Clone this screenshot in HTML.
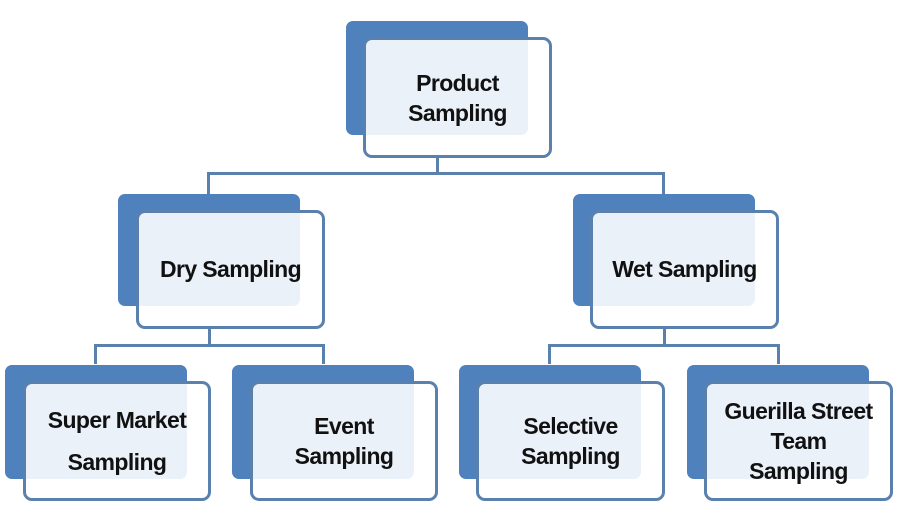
<!DOCTYPE html>
<html><head><style>
body{margin:0;width:900px;height:520px;background:#fff;position:relative;overflow:hidden;font-family:"Liberation Sans",sans-serif;}
.b{position:absolute;background:#4f81bd;border-radius:7px;}
.f{position:absolute;box-sizing:border-box;border:3px solid #5a80ad;border-radius:9px;background:rgba(255,255,255,0.89);display:flex;align-items:center;justify-content:center;text-align:center;font-weight:bold;font-size:23px;color:#111;letter-spacing:-0.6px;}
.l{position:absolute;background:#5a80ad;}
</style></head><body>
<div class="l" style="left:436px;top:155px;width:3px;height:19px"></div>
<div class="l" style="left:207px;top:172px;width:458px;height:3px"></div>
<div class="l" style="left:207px;top:172px;width:3px;height:22px"></div>
<div class="l" style="left:662px;top:172px;width:3px;height:22px"></div>

<div class="l" style="left:208px;top:326px;width:3px;height:20px"></div>
<div class="l" style="left:94px;top:344px;width:231px;height:3px"></div>
<div class="l" style="left:94px;top:344px;width:3px;height:20px"></div>
<div class="l" style="left:322px;top:344px;width:3px;height:20px"></div>

<div class="l" style="left:663px;top:326px;width:3px;height:20px"></div>
<div class="l" style="left:548px;top:344px;width:232px;height:3px"></div>
<div class="l" style="left:548px;top:344px;width:3px;height:20px"></div>
<div class="l" style="left:777px;top:344px;width:3px;height:20px"></div>

<div class="b" style="left:346px;top:21px;width:182px;height:114px"></div>
<div class="f" style="left:363px;top:37px;width:189px;height:121px;line-height:30px">Product<br>Sampling</div>

<div class="b" style="left:118px;top:194px;width:182px;height:112px"></div>
<div class="f" style="left:136px;top:210px;width:189px;height:119px">Dry Sampling</div>

<div class="b" style="left:573px;top:194px;width:182px;height:112px"></div>
<div class="f" style="left:590px;top:210px;width:189px;height:119px">Wet Sampling</div>

<div class="b" style="left:5px;top:365px;width:182px;height:114px"></div>
<div class="f" style="left:23px;top:381px;width:188px;height:120px;line-height:42px">Super Market<br>Sampling</div>

<div class="b" style="left:232px;top:365px;width:182px;height:114px"></div>
<div class="f" style="left:250px;top:381px;width:188px;height:120px;line-height:30px">Event<br>Sampling</div>

<div class="b" style="left:459px;top:365px;width:182px;height:114px"></div>
<div class="f" style="left:476px;top:381px;width:189px;height:120px;line-height:30px">Selective<br>Sampling</div>

<div class="b" style="left:687px;top:365px;width:182px;height:114px"></div>
<div class="f" style="left:704px;top:381px;width:189px;height:120px;line-height:30px">Guerilla Street<br>Team<br>Sampling</div>
</body></html>
